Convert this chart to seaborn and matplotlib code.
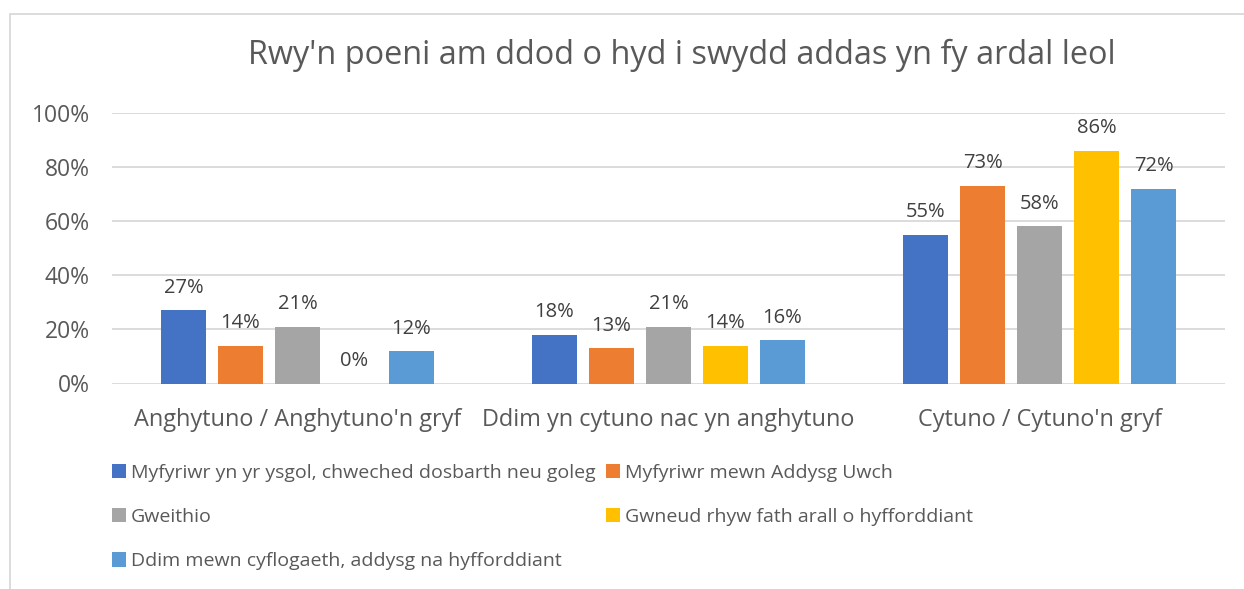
import matplotlib
matplotlib.use("Agg")
import matplotlib.pyplot as plt
import seaborn as sns
import pandas as pd
from matplotlib.patches import Rectangle

categories = ["Anghytuno / Anghytuno'n gryf", "Ddim yn cytuno nac yn anghytuno", "Cytuno / Cytuno'n gryf"]
series = ["Myfyriwr yn yr ysgol, chweched dosbarth neu goleg",
          "Myfyriwr mewn Addysg Uwch",
          "Gweithio",
          "Gwneud rhyw fath arall o hyfforddiant",
          "Ddim mewn cyflogaeth, addysg na hyfforddiant"]
ysgol = [27, 18, 55]
addysg_uwch = [14, 13, 73]
gweithio = [21, 21, 58]
hyfforddiant = [0, 14, 86]
ddim = [12, 16, 72]
colors = ["#4472C4", "#ED7D31", "#A5A5A5", "#FFC000", "#5B9BD5"]
title = "Rwy'n poeni am ddod o hyd i swydd addas yn fy ardal leol"
yticks = [0, 20, 40, 60, 80, 100]

rows = []
for s, vals in zip(series, [ysgol, addysg_uwch, gweithio, hyfforddiant, ddim]):
    for c, v in zip(categories, vals):
        rows.append({"cat": c, "val": v, "series": s})
df = pd.DataFrame(rows)

sns.set_theme(style="white")
plt.rcParams['font.family'] = ['Open Sans', 'DejaVu Sans']
TXT = "#595959"

fig = plt.figure(figsize=(12.44, 5.89), dpi=100)
W, H = 1244, 589
ax = fig.add_axes([112 / W, 1 - 383.5 / H, (1225 - 112) / W, (383.5 - 112.7) / H])

sns.barplot(data=df, x="cat", y="val", hue="series", hue_order=series, order=categories,
            palette=colors, width=0.768, gap=0.21, ax=ax, saturation=1, legend=True,
            linewidth=0, edgecolor="none")

ax.set_ylim(0, 100)
ax.set_xlim(-0.5, 2.5)
ax.set_yticks(yticks)
ax.set_yticklabels([f"{t}%" for t in yticks], color=TXT, fontsize=16.5)
ax.tick_params(axis='y', length=0, pad=16)
ax.tick_params(axis='x', length=0, pad=18, labelsize=16.9, labelcolor=TXT)
ax.set_xlabel("")
ax.set_ylabel("")
for s in ax.spines.values():
    s.set_visible(False)
ax.yaxis.grid(True, color="#D9D9D9", linewidth=1.3)
ax.set_axisbelow(True)

for cont in ax.containers:
    ax.bar_label(cont, labels=[f"{int(v)}%" for v in cont.datavalues], padding=9,
                 fontsize=14.5, color="#404040")

handles, labels = ax.get_legend_handles_labels()
ax.legend_.remove()
order = [0, 2, 4, 1, 3]
fig.legend([handles[i] for i in order], [labels[i] for i in order], ncol=2,
           loc="upper left", bbox_to_anchor=(104 / W, 1 - 456 / H), frameon=False,
           fontsize=14, labelcolor=TXT, handlelength=0.75, handleheight=0.75,
           handletextpad=0.25, columnspacing=0.5, labelspacing=1.35, borderaxespad=0)

fig.text(682 / W, 1 - 64 / H, title, ha="center", va="baseline", fontsize=23.4, color=TXT)

fig.patches.append(Rectangle((10 / W, -0.1), 1.2, 1.1 - 14 / H, transform=fig.transFigure,
                             fill=False, edgecolor="#D9D9D9", linewidth=1.3, clip_on=False))

fig.savefig("out.png", dpi=100)
